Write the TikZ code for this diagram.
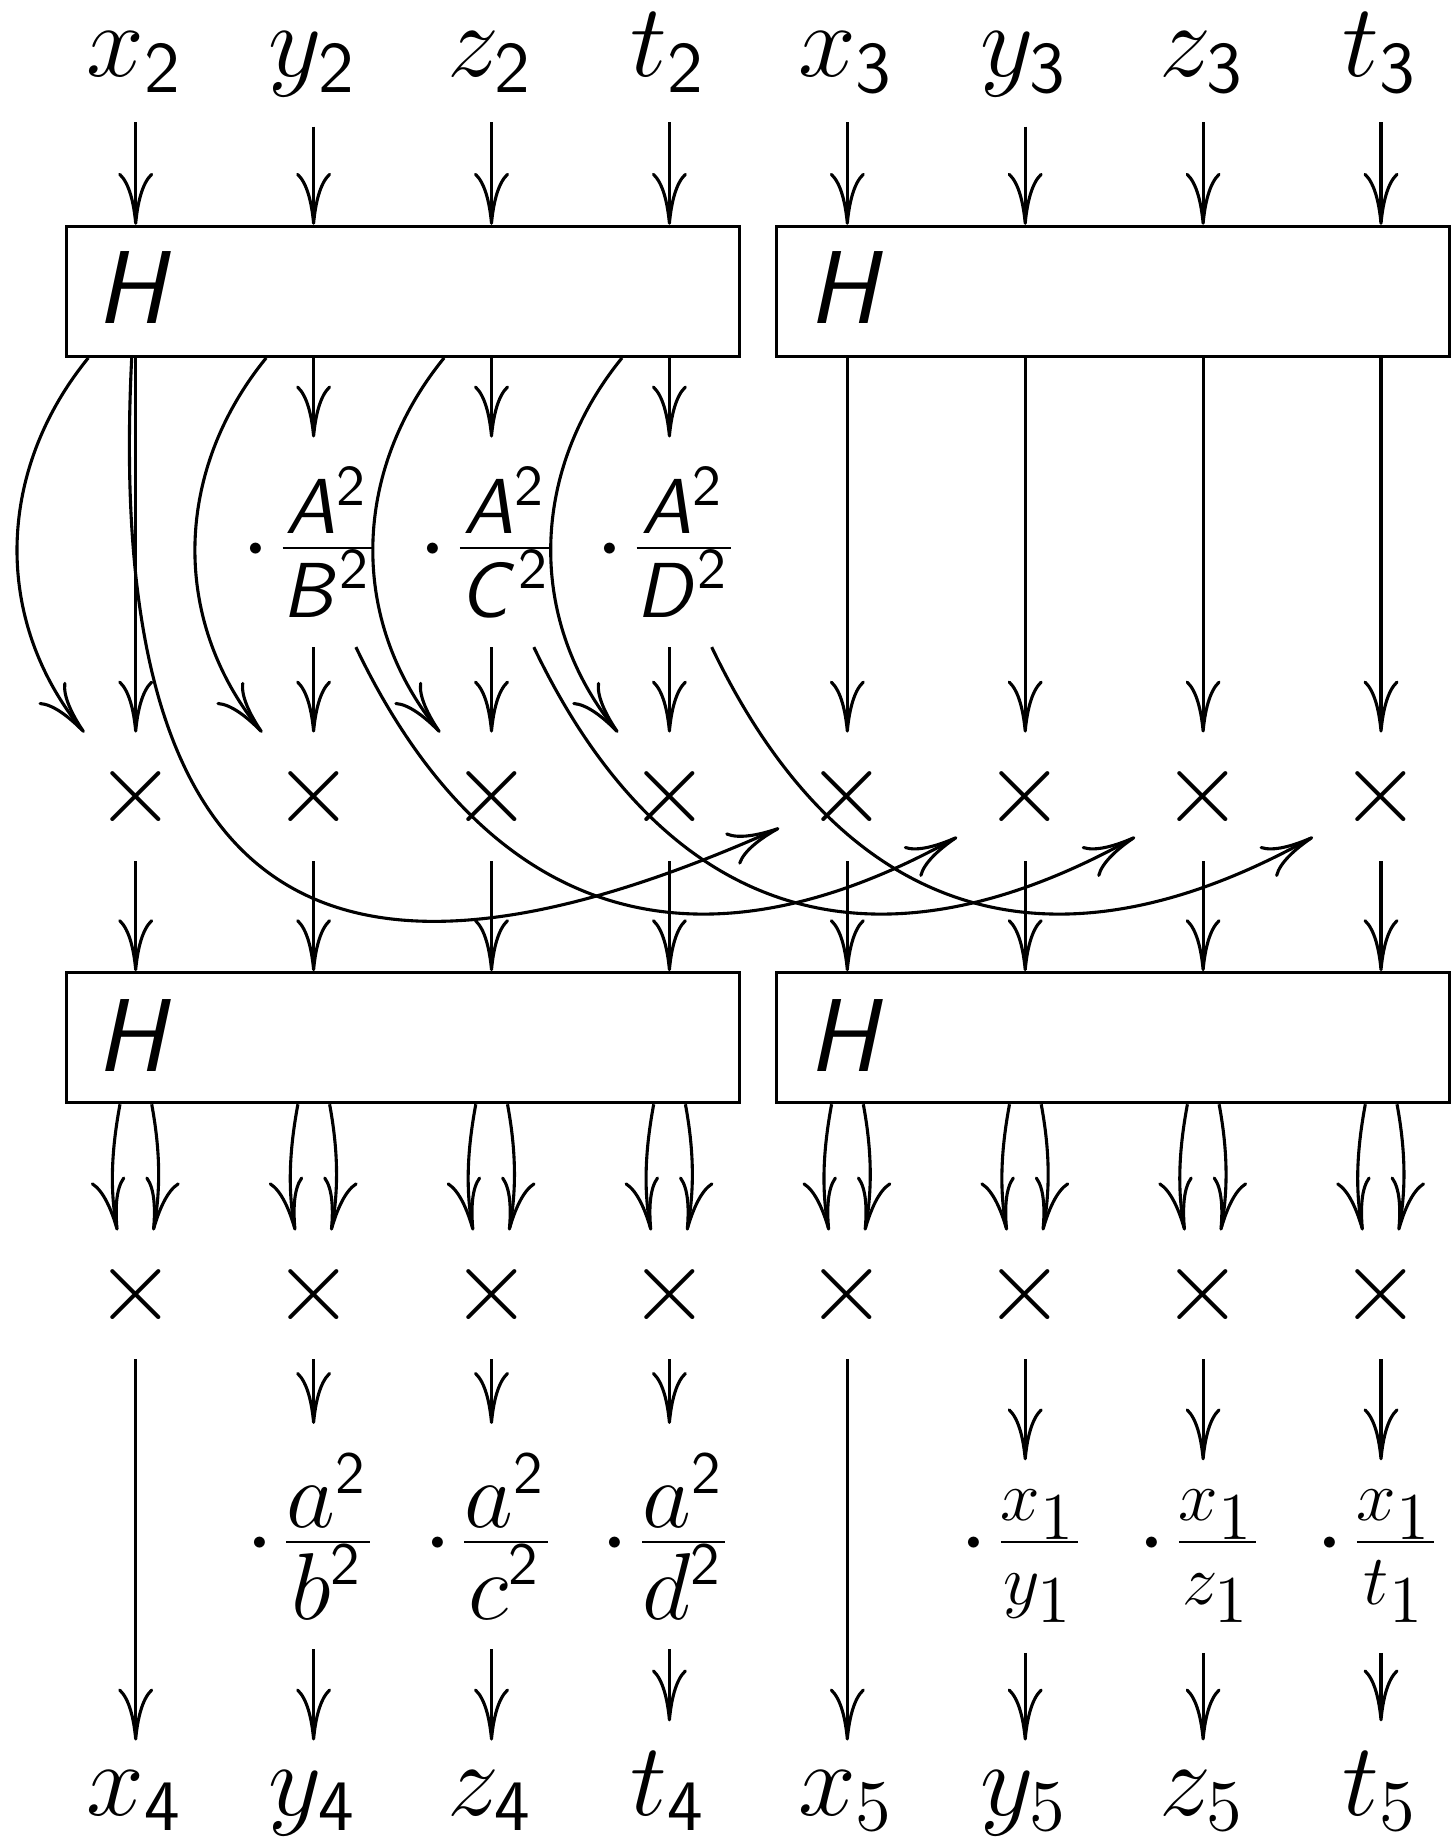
\RequirePackage{fix-cm}
\documentclass[tikz,border=0pt]{standalone}
\usetikzlibrary{arrows.meta,calc}
\DeclareMathAlphabet{\mathsfit}{OT1}{cmss}{m}{sl}
\DeclareMathSizes{20.74}{20.74}{14.52}{10.37}
\DeclareMathSizes{15.6}{15.6}{11.5}{8}
\DeclareMathSizes{19}{19}{12}{9}
\DeclareMathSizes{14.2}{14.2}{13.4}{10}
\newcommand{\capfrac}[2]{\cdot\frac{\hbox{\fontsize{15.6}{17}\selectfont$#1$}}{\hbox{\fontsize{15.6}{17}\selectfont$#2$}}}
\newcommand{\lowfrac}[2]{\cdot\frac{\hbox{\fontsize{19}{20}\selectfont$#1$}}{\hbox{\fontsize{19}{20}\selectfont$#2$}}}
\newcommand{\subfrac}[2]{\cdot\frac{\hbox{\fontsize{14.2}{16}\selectfont$#1$}}{\hbox{\fontsize{14.2}{16}\selectfont$#2$}}}
\begin{document}
\nulldelimiterspace=2.49pt
\scriptspace=1pt
\begin{tikzpicture}[x=0.2pt,y=-0.2pt,line width=0.62pt,
  every node/.style={font=\fontsize{20.74}{25}\selectfont, inner sep=5.66pt, anchor=base},
  arr/.style={-{Computer Modern Rightarrow[length=10.4pt,width=7pt]}},
  hbox/.style={draw, minimum width=134.6pt, minimum height=26pt, inner sep=0pt, anchor=center}]
\useasboundingbox (0,0) rectangle (1454,1837);
% boxes
\node[hbox] (bA) at (403.35,291.35) {};
\node[hbox] (bB) at (1113.2,291.35) {};
\node[hbox] (cA) at (403.35,1037.7) {};
\node[hbox] (cB) at (1113.2,1037.7) {};
\node (hA) at (135.7,323.3) {$\mathsfit{H}$};
\node (hB) at (847.3,323.3) {$\mathsfit{H}$};
\node (hC) at (135.7,1071.7) {$\mathsfit{H}$};
\node (hD) at (847.3,1071.7) {$\mathsfit{H}$};
% top labels
\node (t0) at (135.7,76.7) {$x_{\mathsf{2}}$};
\node (t1) at (313.6,76.7) {$y_{\mathsf{2}}$};
\node (t2) at (491.5,76.7) {$z_{\mathsf{2}}$};
\node (t3) at (669.4,76.7) {$t_{\mathsf{2}}$};
\node (t4) at (847.3,76.7) {$x_{\mathsf{3}}$};
\node (t5) at (1025.2,76.7) {$y_{\mathsf{3}}$};
\node (t6) at (1203.1,76.7) {$z_{\mathsf{3}}$};
\node (t7) at (1381.0,76.7) {$t_{\mathsf{3}}$};
% fractions row 1
\node (f1) at (313.6,574.2) {$\capfrac{\mathsfit{A}^{\mathsf{2}}}{\mathsfit{B}^{\mathsf{2}}}$};
\node (f2) at (491.5,574.2) {$\capfrac{\mathsfit{A}^{\mathsf{2}}}{\mathsfit{C}^{\mathsf{2}}}$};
\node (f3) at (669.4,574.2) {$\capfrac{\mathsfit{A}^{\mathsf{2}}}{\mathsfit{D}^{\mathsf{2}}}$};
% times row 1
\foreach \i/\x in {0/135.7,1/313.6,2/491.5,3/669.4,4/847.3,5/1025.2,6/1203.1,7/1381.0}
  \node (m\i) at (\x,822.9) {$\times$};
% times row 2
\foreach \i/\x in {0/135.7,1/313.6,2/491.5,3/669.4,4/847.3,5/1025.2,6/1203.1,7/1381.0}
  \node (n\i) at (\x,1320.9) {$\times$};
% fractions row 2
\node (g1) at (313.6,1568.4) {$\lowfrac{a^{\mathsf{2}}}{b^{\mathsf{2}}}$};
\node (g2) at (491.5,1568.4) {$\lowfrac{a^{\mathsf{2}}}{c^{\mathsf{2}}}$};
\node (g3) at (669.4,1568.4) {$\lowfrac{a^{\mathsf{2}}}{d^{\mathsf{2}}}$};
\node (g5) at (1025.2,1568.4) {$\subfrac{x_1}{y_1}$};
\node (g6) at (1203.1,1568.4) {$\subfrac{x_1}{z_1}$};
\node (g7) at (1381.0,1568.4) {$\subfrac{x_1}{t_1}$};
% bottom labels
\node (b0) at (135.7,1815) {$x_{\mathsf{4}}$};
\node (b1) at (313.6,1815) {$y_{\mathsf{4}}$};
\node (b2) at (491.5,1815) {$z_{\mathsf{4}}$};
\node (b3) at (669.4,1815) {$t_{\mathsf{4}}$};
\node (b4) at (847.3,1815) {$x_5$};
\node (b5) at (1025.2,1815) {$y_5$};
\node (b6) at (1203.1,1815) {$z_5$};
\node (b7) at (1381.0,1815) {$t_5$};
% arrows: labels -> boxes
\foreach \i in {0,1,2,3} \draw[arr] (t\i) -- (t\i |- bA.north);
\foreach \i in {4,5,6,7} \draw[arr] (t\i) -- (t\i |- bB.north);
% boxes -> row 1
\draw[arr] (bA.south -| m0) -- (m0);
\foreach \i in {1,2,3} \draw[arr] (bA.south -| f\i) -- (f\i);
\foreach \i in {4,5,6,7} \draw[arr] (bB.south -| m\i) -- (m\i);
\foreach \i in {1,2,3} \draw[arr] (f\i) -- (m\i);
% row 1 -> boxes 2
\foreach \i in {0,1,2,3} \draw[arr] (m\i) -- (m\i |- cA.north);
\foreach \i in {4,5,6,7} \draw[arr] (m\i) -- (m\i |- cB.north);
% curved arrows box -> times
\foreach \i in {0,1,2,3}
  \draw[arr] ($(bA.south -| m\i)+(-47.4,0)$) .. controls +(-92,113) and +(-92,-113) .. ($(m\i.north)+(-51.4,0)$);
\draw[arr] ($(bA.south -| m0)+(-4,0)$) .. controls +(-30,600) and +(-410.6,183) .. ($(m4.base)+(-68,5.1)$);
\foreach \i/\j in {1/5,2/6,3/7}
  \draw[arr] ($(f\i.south)+(42.3,0)$) .. controls +(107.5,225) and +(-306,170) .. ($(m\j.base)+(-68,14.1)$);
% double arrows
\foreach \i in {0,1,2,3} {
  \draw[arr] ($(cA.south -| n\i)+(-15.7,0)$) .. controls +(-8,43) and +(-8,-43) .. ($(n\i.north)+(-18.4,0)$);
  \draw[arr] ($(cA.south -| n\i)+(16,0)$) .. controls +(8,43) and +(8,-43) .. ($(n\i.north)+(17.6,0)$);
}
\foreach \i in {4,5,6,7} {
  \draw[arr] ($(cB.south -| n\i)+(-15.7,0)$) .. controls +(-8,43) and +(-8,-43) .. ($(n\i.north)+(-18.4,0)$);
  \draw[arr] ($(cB.south -| n\i)+(16,0)$) .. controls +(8,43) and +(8,-43) .. ($(n\i.north)+(17.6,0)$);
}
% row 2 down
\draw[arr] (n0) -- (b0);
\draw[arr] (n4) -- (b4);
\foreach \i in {1,2,3,5,6,7} {
  \draw[arr] (n\i) -- (g\i);
  \draw[arr] (g\i) -- (b\i);
}
\end{tikzpicture}
\end{document}
